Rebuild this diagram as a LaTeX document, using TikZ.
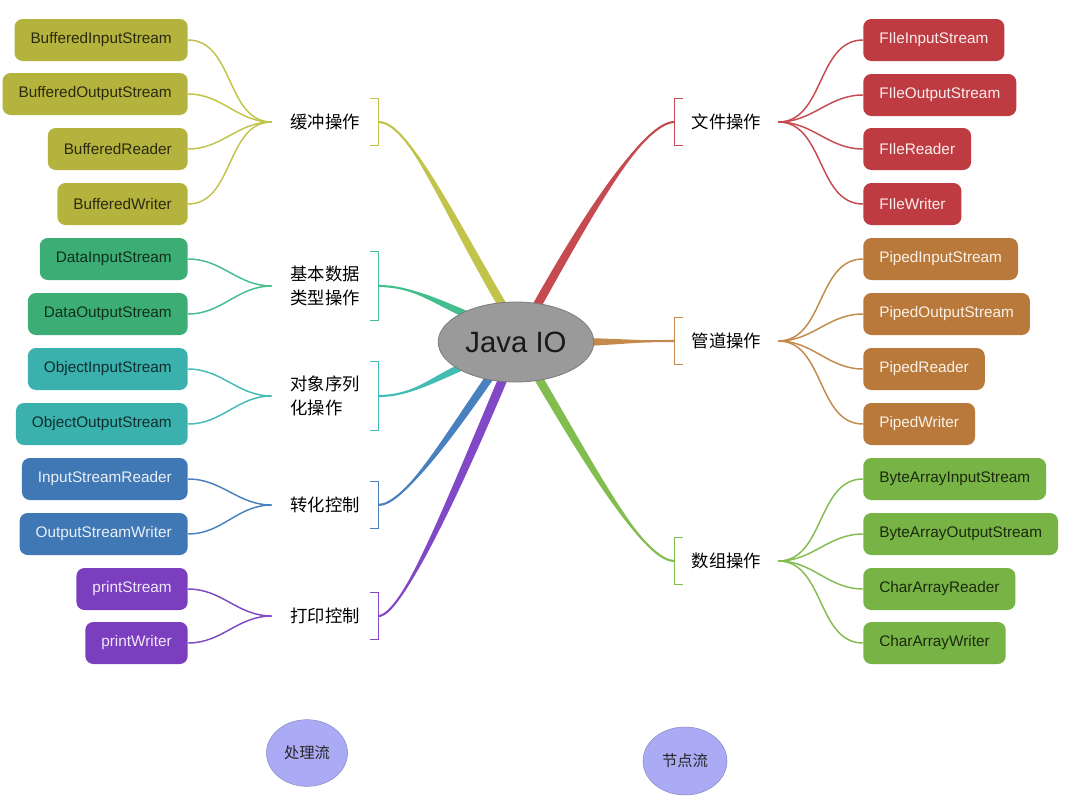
\documentclass[tikz,border=0pt]{standalone}
\usepackage{fontspec}
\setmainfont{Liberation Sans}
\newfontfamily\cjk{Noto Sans CJK SC}
\usetikzlibrary{calc,shapes.geometric,backgrounds}
\definecolor{buf-box}{HTML}{B4B33D}
\definecolor{buf-line}{HTML}{C2C34A}
\definecolor{buf-text}{HTML}{2B2A10}
\definecolor{dat-box}{HTML}{3CAD75}
\definecolor{dat-line}{HTML}{44BE8D}
\definecolor{dat-text}{HTML}{10301E}
\definecolor{obj-box}{HTML}{3AB1AD}
\definecolor{obj-line}{HTML}{44BCB6}
\definecolor{obj-text}{HTML}{0F2F2E}
\definecolor{cvt-box}{HTML}{3F78B4}
\definecolor{cvt-line}{HTML}{4981BF}
\definecolor{cvt-text}{HTML}{EAF0F8}
\definecolor{prt-box}{HTML}{7B3EBE}
\definecolor{prt-line}{HTML}{8149C6}
\definecolor{prt-text}{HTML}{F0E8F8}
\definecolor{fil-box}{HTML}{BE3B41}
\definecolor{fil-line}{HTML}{C64B50}
\definecolor{fil-text}{HTML}{FBEDEE}
\definecolor{pip-box}{HTML}{B8793B}
\definecolor{pip-line}{HTML}{C38A4C}
\definecolor{pip-text}{HTML}{FBF1E6}
\definecolor{arr-box}{HTML}{78B346}
\definecolor{arr-line}{HTML}{82BD50}
\definecolor{arr-text}{HTML}{1B2A0E}
\definecolor{io-grey}{HTML}{9A9A9A}
\definecolor{io-lilac}{HTML}{ABABF5}

% tapered trunk: colour, start, first control, border point, second control, half width
% (the tip is pushed a little inside the centre ellipse)
\newcommand{\trunk}[6]{%
  \coordinate (tip) at ($(#4)!0.18!(java.center)$);
  \draw[#1, line width=1.6pt] (#2) .. controls +(#3) and +(#5) .. (tip);
  \fill[#1] (#2) .. controls +(#3) and +(#5) .. ($(tip)+(#6)$)
    -- ($(tip)-(#6)$) .. controls +(#5) and +(#3) .. (#2) -- cycle;
}

\begin{document}
\begin{tikzpicture}[
    x=0.75pt, y=-0.75pt,
    leaf/.style={rounded corners=6pt, minimum height=31.5pt, inner xsep=12pt, inner ysep=0pt, font=\fontsize{11.5}{13}\selectfont},
    leafL/.style={leaf, anchor=east},
    leafR/.style={leaf, anchor=west},
    catL/.style={minimum width=79.5pt, minimum height=35pt, inner sep=0pt, align=center, font=\cjk\fontsize{13}{18}\selectfont},
    catR/.style={minimum width=77.25pt, minimum height=35pt, inner sep=0pt, align=center, font=\cjk\fontsize{13}{18}\selectfont},
    link/.style={line width=1.1pt},
    brk/.style={line width=1pt},
    kind/.style={ellipse, fill=io-lilac, draw=io-lilac!80!black, line width=0.4pt, font=\cjk\fontsize{11.5}{13}\selectfont, text=black!85}
]
\useasboundingbox (0,0) rectangle (1082,807);

% ── centre ────────────────────────────────────────
\node[ellipse, fill=io-grey, draw=io-grey!80!black, line width=0.6pt, minimum width=110pt, minimum height=60pt, font=\fontsize{22}{24}\selectfont, text=black!90] (java) at (516,342) {Java IO};

% ── left: category labels ─────────────────────────
\node[catL] (buf) at (325,122) {缓冲操作};
\node[catL, minimum height=51pt] (dat) at (325,286) {基本数据\\类型操作};
\node[catL, minimum height=51pt, align=left] (obj) at (325,396) {对象序列\\化操作};
\node[catL] (cvt) at (325,505) {转化控制};
\node[catL] (prt) at (325,616) {打印控制};

% ── right: category labels ────────────────────────
\node[catR] (fil) at (726.5,122) {文件操作};
\node[catR] (pip) at (726.5,341) {管道操作};
\node[catR] (arr) at (726.5,561) {数组操作};

% ── brackets ──────────────────────────────────────
\foreach \c/\col in {buf/buf-line, dat/dat-line, obj/obj-line, cvt/cvt-line, prt/prt-line}
  \draw[brk, \col] ([xshift=-6pt]\c.north east) -- (\c.north east) -- (\c.south east) -- ([xshift=-6pt]\c.south east);
\foreach \c/\col in {fil/fil-line, pip/pip-line, arr/arr-line}
  \draw[brk, \col] ([xshift=6pt]\c.north west) -- (\c.north west) -- (\c.south west) -- ([xshift=6pt]\c.south west);

% ── left leaves ───────────────────────────────────
\node[leafL, fill=buf-box, text=buf-text] (b1) at (188,40) {BufferedInputStream};
\node[leafL, fill=buf-box, text=buf-text] (b2) at (188,94) {BufferedOutputStream};
\node[leafL, fill=buf-box, text=buf-text] (b3) at (188,149) {BufferedReader};
\node[leafL, fill=buf-box, text=buf-text] (b4) at (188,204) {BufferedWriter};
\node[leafL, fill=dat-box, text=dat-text] (d1) at (188,259) {DataInputStream};
\node[leafL, fill=dat-box, text=dat-text] (d2) at (188,314) {DataOutputStream};
\node[leafL, fill=obj-box, text=obj-text] (o1) at (188,369) {ObjectInputStream};
\node[leafL, fill=obj-box, text=obj-text] (o2) at (188,424) {ObjectOutputStream};
\node[leafL, fill=cvt-box, text=cvt-text] (v1) at (188,479) {InputStreamReader};
\node[leafL, fill=cvt-box, text=cvt-text] (v2) at (188,534) {OutputStreamWriter};
\node[leafL, fill=prt-box, text=prt-text] (p1) at (188,589) {printStream};
\node[leafL, fill=prt-box, text=prt-text] (p2) at (188,643) {printWriter};

% ── right leaves ──────────────────────────────────
\node[leafR, fill=fil-box, text=fil-text] (f1) at (863,40) {FIleInputStream};
\node[leafR, fill=fil-box, text=fil-text] (f2) at (863,95) {FIleOutputStream};
\node[leafR, fill=fil-box, text=fil-text] (f3) at (863,149) {FIleReader};
\node[leafR, fill=fil-box, text=fil-text] (f4) at (863,204) {FIleWriter};
\node[leafR, fill=pip-box, text=pip-text] (q1) at (863,259) {PipedInputStream};
\node[leafR, fill=pip-box, text=pip-text] (q2) at (863,314) {PipedOutputStream};
\node[leafR, fill=pip-box, text=pip-text] (q3) at (863,369) {PipedReader};
\node[leafR, fill=pip-box, text=pip-text] (q4) at (863,424) {PipedWriter};
\node[leafR, fill=arr-box, text=arr-text] (a1) at (863,479) {ByteArrayInputStream};
\node[leafR, fill=arr-box, text=arr-text] (a2) at (863,534) {ByteArrayOutputStream};
\node[leafR, fill=arr-box, text=arr-text] (a3) at (863,589) {CharArrayReader};
\node[leafR, fill=arr-box, text=arr-text] (a4) at (863,643) {CharArrayWriter};

% ── leaf links ────────────────────────────────────
\foreach \n in {b1,b2,b3,b4} \draw[link, buf-line] (\n.east) to[out=0,in=180] (buf.west);
\foreach \n in {d1,d2} \draw[link, dat-line] (\n.east) to[out=0,in=180] (dat.west);
\foreach \n in {o1,o2} \draw[link, obj-line] (\n.east) to[out=0,in=180] (obj.west);
\foreach \n in {v1,v2} \draw[link, cvt-line] (\n.east) to[out=0,in=180] (cvt.west);
\foreach \n in {p1,p2} \draw[link, prt-line] (\n.east) to[out=0,in=180] (prt.west);
\foreach \n in {f1,f2,f3,f4} \draw[link, fil-line] (fil.east) to[out=0,in=180] (\n.west);
\foreach \n in {q1,q2,q3,q4} \draw[link, pip-line] (pip.east) to[out=0,in=180] (\n.west);
\foreach \n in {a1,a2,a3,a4} \draw[link, arr-line] (arr.east) to[out=0,in=180] (\n.west);

% ── trunks to the centre ──────────────────────────
\begin{scope}[on background layer]
  \trunk{buf-line}{buf.east}{30,0}{java.109}{-61,-104}{5,0}
  \trunk{fil-line}{fil.west}{-30,0}{java.60}{58,-104}{5,0}
  \trunk{dat-line}{dat.east}{35,0}{java.150}{-35,-14}{0,4}
  \trunk{obj-line}{obj.east}{35,0}{java.205}{-35,14}{0,4}
  \trunk{cvt-line}{cvt.east}{25,0}{java.233}{-45,65}{5,0}
  \trunk{prt-line}{prt.east}{22,0}{java.251}{-60,142}{5,0}
  \trunk{pip-line}{pip.west}{-20,0}{java.east}{20,0}{0,4}
  \trunk{arr-line}{arr.west}{-30,0}{java.302}{60,102}{5,0}
\end{scope}

% ── legend ────────────────────────────────────────
\node[kind, minimum width=60.75pt, minimum height=50pt] (proc) at (307,753) {处理流};
\node[kind, minimum width=63pt, minimum height=51pt] (node) at (685,761) {节点流};

\end{tikzpicture}
\end{document}
